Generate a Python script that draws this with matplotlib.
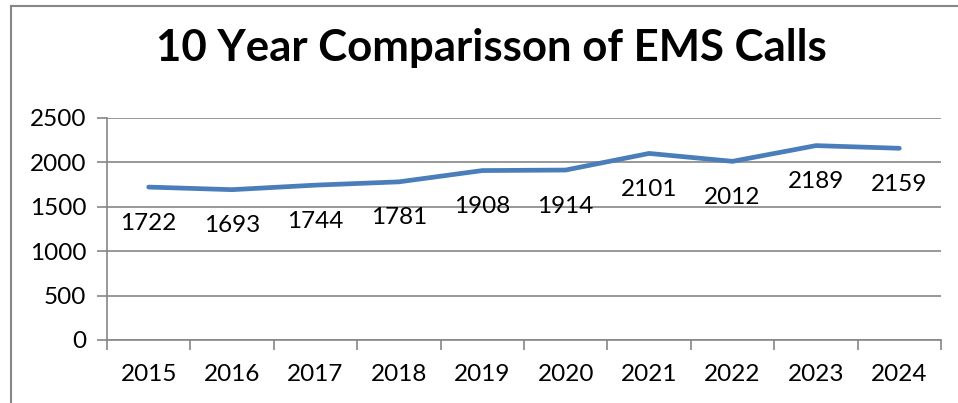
"""
Line chart of yearly EMS calls over ten years.

"""
import matplotlib.pyplot as plt
from matplotlib.lines import Line2D

years = ["2015", "2016", "2017", "2018", "2019", "2020", "2021", "2022", "2023", "2024"]
calls = [1722, 1693, 1744, 1781, 1908, 1914, 2101, 2012, 2189, 2159]
y_ticks = [0, 500, 1000, 1500, 2000, 2500]

plt.rcParams["font.family"] = ["Lato", "DejaVu Sans"]

W, H = 958, 403
fig = plt.figure(figsize=(W / 100, H / 100), dpi=100)

# plot area in pixels: left 107, right 941, top 118, bottom 340
ax = fig.add_axes([107 / W, 1 - 340 / H, (941 - 107) / W, (340 - 118) / H])

positions = [i + 0.5 for i in range(len(years))]
ax.plot(positions, calls, color="#4a7ebb", linewidth=3.4, solid_capstyle="round",
        solid_joinstyle="round", zorder=3)
for x, v in zip(positions, calls):
    ax.annotate(str(v), (x, v), xytext=(0, -26), textcoords="offset points",
                ha="center", va="center", fontsize=17.5)

ax.set_xlim(0, len(years))
ax.set_ylim(0, 2500)
ax.set_yticks(y_ticks)
ax.set_yticklabels([str(t) for t in y_ticks], fontsize=17.5)
ax.set_xticks(range(len(years) + 1))
ax.set_xticklabels([])
ax.set_xticks(positions, minor=True)
ax.set_xticklabels(years, minor=True, fontsize=17.5)
ax.tick_params(axis="x", which="major", direction="out", length=7, color="#868686", width=1.2)
ax.tick_params(axis="x", which="minor", length=0, pad=17)
ax.tick_params(axis="y", direction="out", length=7, color="#868686", width=1.2, pad=8)

ax.grid(axis="y", color="#868686", linewidth=1.2)
ax.set_axisbelow(True)
for side in ("top", "right"):
    ax.spines[side].set_visible(False)
for side in ("left", "bottom"):
    ax.spines[side].set_color("#868686")
    ax.spines[side].set_linewidth(1.2)

fig.text(491 / W, 1 - 48 / H, "10 Year Comparisson of EMS Calls", ha="center", va="center",
         fontsize=31.5, fontweight="bold")

# chart frame (left and top edges visible in the crop)
fig.add_artist(Line2D([11 / W, 11 / W], [0, 1 - 6 / H], color="#868686", linewidth=1.5))
fig.add_artist(Line2D([11 / W, 1], [1 - 6 / H, 1 - 6 / H], color="#868686", linewidth=1.5))

fig.savefig("out.png", dpi=100)
